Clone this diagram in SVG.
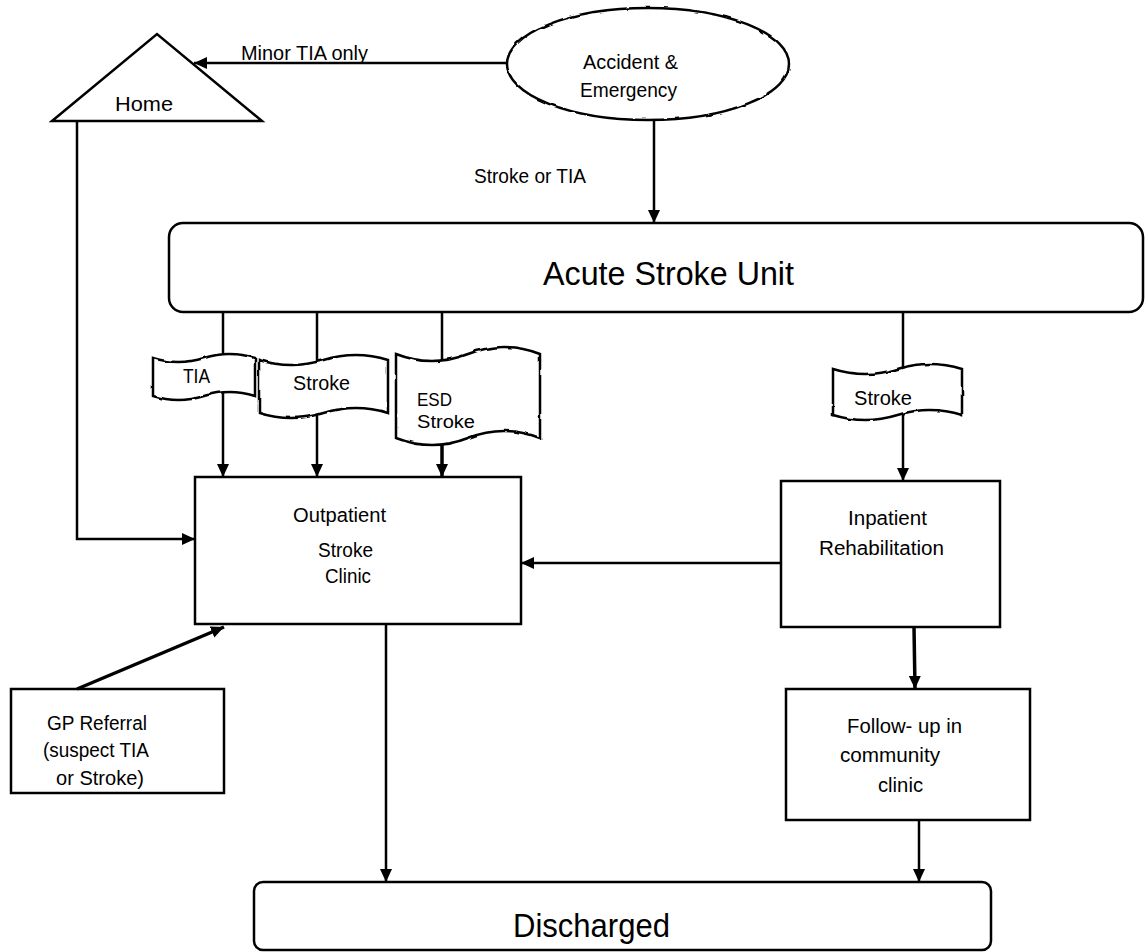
<svg xmlns="http://www.w3.org/2000/svg" width="1145" height="952" viewBox="0 0 1145 952">
<style>
.box{fill:#fff;stroke:#000;stroke-width:2.5}
.ln{fill:none;stroke:#000;stroke-width:2.5}
.thick{stroke-width:3.5}
.n{font-family:"Liberation Sans Narrow","Liberation Sans",Arial,sans-serif;font-size:21px;fill:#000}
.big{font-size:33px}
.c{font-family:"Liberation Sans",Arial,sans-serif;font-size:20px;fill:#000}
.s{font-size:18px}
</style>
<defs>
<marker id="ah" markerUnits="userSpaceOnUse" markerWidth="14" markerHeight="14" viewBox="0 0 14 14" refX="13" refY="7" orient="auto">
<path d="M0,1 L13,7 L0,13 z" fill="#000"/>
</marker>
<filter id="wob" x="-5%" y="-5%" width="110%" height="110%">
<feTurbulence type="fractalNoise" baseFrequency="0.09" numOctaves="1" seed="3"/>
<feDisplacementMap in="SourceGraphic" scale="3" xChannelSelector="R" yChannelSelector="G"/>
</filter>
</defs>
<rect width="1145" height="952" fill="#fff"/>

<g id="home">
<polygon class="box" points="52,121 157,34 262,121"/>
<text class="n" x="115" y="111" textLength="58" lengthAdjust="spacingAndGlyphs">Home</text>
</g>

<g id="ae">
<ellipse class="box" cx="648" cy="64" rx="141" ry="56" filter="url(#wob)"/>
<text class="n" x="583" y="69" textLength="95" lengthAdjust="spacingAndGlyphs">Accident &amp;</text>
<text class="n" x="580" y="97" textLength="97" lengthAdjust="spacingAndGlyphs">Emergency</text>
</g>

<g id="asu">
<rect class="box" x="169" y="223" width="974" height="89" rx="14"/>
<text class="n big" x="543" y="285" textLength="251" lengthAdjust="spacingAndGlyphs">Acute Stroke Unit</text>
</g>

<g id="outpatient">
<rect class="box" x="195" y="477" width="326" height="147"/>
<text class="c" x="293" y="522" textLength="93" lengthAdjust="spacingAndGlyphs">Outpatient</text>
<text class="c" x="318" y="557" textLength="55" lengthAdjust="spacingAndGlyphs">Stroke</text>
<text class="c" x="325" y="583" textLength="46" lengthAdjust="spacingAndGlyphs">Clinic</text>
</g>

<g id="inpatient">
<rect class="box" x="781" y="481" width="219" height="146"/>
<text class="c" x="848" y="525" textLength="79" lengthAdjust="spacingAndGlyphs">Inpatient</text>
<text class="c" x="819" y="555" textLength="125" lengthAdjust="spacingAndGlyphs">Rehabilitation</text>
</g>

<g id="gp">
<rect class="box" x="11" y="689" width="213" height="104"/>
<text class="c" x="47" y="730" textLength="100" lengthAdjust="spacingAndGlyphs">GP Referral</text>
<text class="c" x="43" y="757" textLength="106" lengthAdjust="spacingAndGlyphs">(suspect TIA</text>
<text class="c" x="56" y="785" textLength="88" lengthAdjust="spacingAndGlyphs">or Stroke)</text>
</g>

<g id="followup">
<rect class="box" x="786" y="689" width="244" height="131"/>
<text class="c" x="847" y="733" textLength="115" lengthAdjust="spacingAndGlyphs">Follow- up in</text>
<text class="c" x="840" y="762" textLength="100" lengthAdjust="spacingAndGlyphs">community</text>
<text class="c" x="878" y="792" textLength="45" lengthAdjust="spacingAndGlyphs">clinic</text>
</g>

<g id="discharged">
<rect class="box" x="254" y="882" width="737" height="68" rx="9"/>
<text class="n big" x="513" y="937" textLength="157" lengthAdjust="spacingAndGlyphs">Discharged</text>
</g>

<g id="connectors">
<line class="ln" x1="507" y1="63" x2="194" y2="63" marker-end="url(#ah)"/>
<text class="n" x="241" y="60" textLength="127" lengthAdjust="spacingAndGlyphs">Minor TIA only</text>
<line class="ln" x1="654" y1="121" x2="654" y2="223" marker-end="url(#ah)"/>
<text class="n" x="474" y="183" textLength="112" lengthAdjust="spacingAndGlyphs">Stroke or TIA</text>
<line class="ln" x1="223" y1="312" x2="223" y2="477" marker-end="url(#ah)"/>
<line class="ln" x1="317" y1="312" x2="317" y2="477" marker-end="url(#ah)"/>
<line class="ln" x1="442" y1="312" x2="442" y2="440"/>
<line class="ln thick" x1="442" y1="440" x2="442" y2="477" marker-end="url(#ah)"/>
<line class="ln" x1="903" y1="312" x2="903" y2="481" marker-end="url(#ah)"/>
<polyline class="ln" points="77,121 77,539 195,539" marker-end="url(#ah)"/>
<line class="ln" x1="781" y1="563" x2="521" y2="563" marker-end="url(#ah)"/>
<line class="ln thick" x1="77" y1="689" x2="224" y2="627" marker-end="url(#ah)"/>
<line class="ln" x1="386" y1="624" x2="386" y2="882" marker-end="url(#ah)"/>
<line class="ln thick" x1="914" y1="627" x2="915" y2="689" marker-end="url(#ah)"/>
<line class="ln" x1="919" y1="820" x2="919" y2="882" marker-end="url(#ah)"/>
</g>

<g id="flag-tia">
<path class="box" filter="url(#wob)" d="M153,358 Q178.5,366 204,358 T255,358 L255,396 Q229.5,388 204,396 T153,396 Z"/>
<text class="c" x="183" y="383" textLength="27" lengthAdjust="spacingAndGlyphs">TIA</text>
</g>
<g id="flag-stroke">
<path class="box" filter="url(#wob)" d="M259,360 Q291,370 323.5,360 T388,360 L388,413 Q356,403 323.5,413 T259,413 Z"/>
<text class="c" x="293" y="390" textLength="57" lengthAdjust="spacingAndGlyphs">Stroke</text>
</g>
<g id="flag-esd">
<path class="box" filter="url(#wob)" d="M396,354 Q432,368 468,354 T540,354 L540,438 Q504,424 468,438 T396,438 Z"/>
<text class="c s" x="417" y="406" textLength="35" lengthAdjust="spacingAndGlyphs">ESD</text>
<text class="c s" x="417" y="428" textLength="58" lengthAdjust="spacingAndGlyphs">Stroke</text>
</g>
<g id="flag-stroke-right">
<path class="box" filter="url(#wob)" d="M833,369 Q865,379 897.5,369 T962,369 L962,415 Q930,405 897.5,415 T833,415 Z"/>
<text class="c" x="854" y="405" textLength="58" lengthAdjust="spacingAndGlyphs">Stroke</text>
</g>
</svg>
